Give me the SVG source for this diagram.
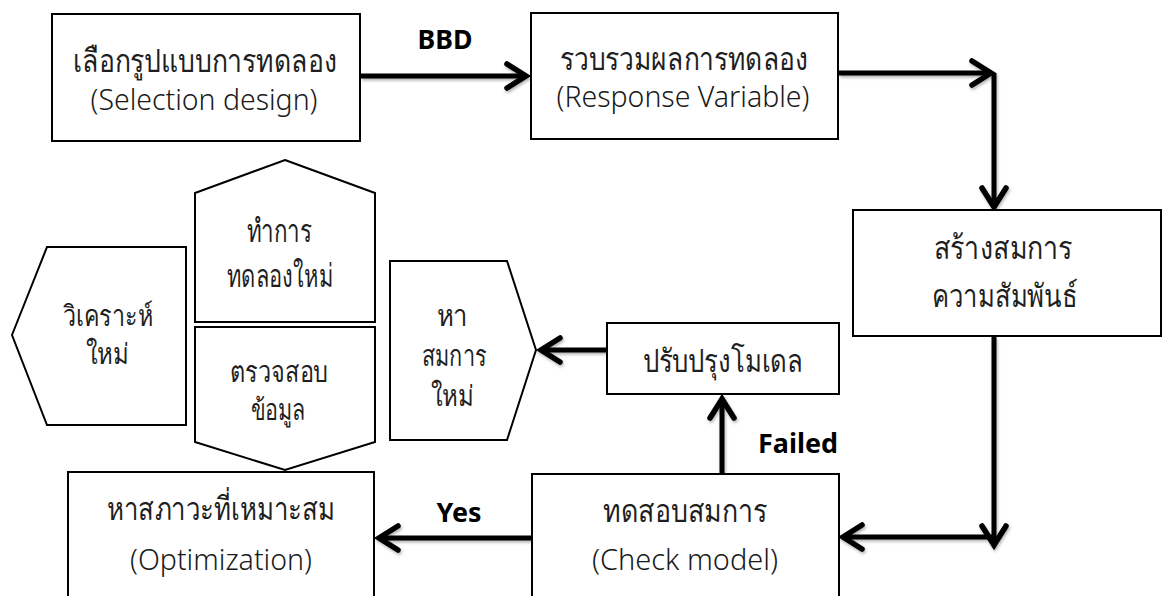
<svg xmlns="http://www.w3.org/2000/svg" width="1169" height="596" viewBox="0 0 1169 596">
  <style>
    .box { fill: #ffffff; stroke: #000000; stroke-width: 2; }
    .th { font-family: "Noto Sans", "DejaVu Sans", sans-serif; font-size: 32px; font-weight: 300; fill: #1f1f1f; text-anchor: middle; }
    .ths { font-family: "Noto Sans", "DejaVu Sans", sans-serif; font-size: 29px; font-weight: 300; fill: #1f1f1f; text-anchor: middle; }
    .en { font-family: "Noto Sans", "DejaVu Sans", sans-serif; font-size: 30px; font-weight: 300; fill: #1a1a1a; text-anchor: middle; }
    .lbl { font-family: "Noto Sans", "DejaVu Sans", sans-serif; font-size: 26px; font-weight: bold; fill: #000000; text-anchor: middle; }
    .conn { fill: none; stroke: #000000; stroke-width: 5; marker-end: url(#arrow); }
  </style>
  <defs>
    <marker id="arrow" markerUnits="userSpaceOnUse" markerWidth="40" markerHeight="40" refX="0" refY="0" viewBox="-30 -20 40 40" orient="auto" overflow="visible">
      <path d="M-19,-12 L0,0 L-19,12" fill="none" stroke="#000000" stroke-width="5.5" stroke-linecap="round" stroke-linejoin="miter"/>
    </marker>
    <filter id="shadow" x="-10%" y="-10%" width="120%" height="120%">
      <feDropShadow dx="1" dy="2" stdDeviation="1.5" flood-color="#000000" flood-opacity="0.3"/>
    </filter>
  </defs>
  <rect width="1169" height="596" fill="#ffffff"/>

  <!-- connectors -->
  <g id="connectors" filter="url(#shadow)">
    <path class="conn" d="M361 76 H526"/>
    <path class="conn" d="M839 73 H991"/>
    <path class="conn" d="M994 73 V207"/>
    <path class="conn" d="M994 337 V545"/>
    <path class="conn" d="M994 537 H843"/>
    <path class="conn" d="M531 538 H379"/>
    <path class="conn" d="M722 474 V399"/>
    <path class="conn" d="M607 350 H541"/>
  </g>

  <!-- edge labels -->
  <g id="labels">
    <text class="lbl" x="445" y="49" textLength="55" lengthAdjust="spacingAndGlyphs">BBD</text>
    <text class="lbl" x="798" y="453" textLength="80" lengthAdjust="spacingAndGlyphs">Failed</text>
    <text class="lbl" x="459" y="522" textLength="45" lengthAdjust="spacingAndGlyphs">Yes</text>
  </g>

  <g id="selection-design">
    <rect class="box" x="52" y="14" width="308" height="127"/>
    <text class="th" x="205" y="72" textLength="264" lengthAdjust="spacingAndGlyphs">เลือกรูปแบบการทดลอง</text>
    <text class="en" x="204" y="110" textLength="227" lengthAdjust="spacingAndGlyphs">(Selection design)</text>
  </g>

  <g id="response-variable">
    <rect class="box" x="531" y="13" width="307" height="126"/>
    <text class="th" x="684" y="70" textLength="248" lengthAdjust="spacingAndGlyphs">รวบรวมผลการทดลอง</text>
    <text class="en" x="683" y="107" textLength="253" lengthAdjust="spacingAndGlyphs">(Response Variable)</text>
  </g>

  <g id="build-equation">
    <rect class="box" x="853" y="210" width="308" height="126"/>
    <text class="th" x="1003" y="259" textLength="139" lengthAdjust="spacingAndGlyphs">สร้างสมการ</text>
    <text class="th" x="1005" y="307" textLength="146" lengthAdjust="spacingAndGlyphs">ความสัมพันธ์</text>
  </g>

  <g id="check-model">
    <rect class="box" x="532" y="474" width="307" height="140"/>
    <text class="th" x="685" y="522" textLength="164" lengthAdjust="spacingAndGlyphs">ทดสอบสมการ</text>
    <text class="en" x="685" y="570" textLength="186" lengthAdjust="spacingAndGlyphs">(Check model)</text>
  </g>

  <g id="optimization">
    <rect class="box" x="68" y="472" width="306" height="140"/>
    <text class="th" x="221" y="520" textLength="228" lengthAdjust="spacingAndGlyphs">หาสภาวะที่เหมาะสม</text>
    <text class="en" x="221" y="570" textLength="182" lengthAdjust="spacingAndGlyphs">(Optimization)</text>
  </g>

  <g id="improve-model">
    <rect class="box" x="607" y="323" width="232" height="71"/>
    <text class="th" x="723" y="372" textLength="161" lengthAdjust="spacingAndGlyphs">ปรับปรุงโมเดล</text>
  </g>

  <g id="new-equation">
    <polygon class="box" points="390,261 507,261 536,350 507,440 390,440"/>
    <text class="ths" x="452" y="326" textLength="31" lengthAdjust="spacingAndGlyphs">หา</text>
    <text class="ths" x="454" y="366" textLength="65" lengthAdjust="spacingAndGlyphs">สมการ</text>
    <text class="ths" x="452" y="406" textLength="43" lengthAdjust="spacingAndGlyphs">ใหม่</text>
  </g>

  <g id="reanalyze">
    <polygon class="box" points="12,335 47,247 186,247 186,425 47,425"/>
    <text class="ths" x="108" y="326" textLength="90" lengthAdjust="spacingAndGlyphs">วิเคราะห์</text>
    <text class="ths" x="107" y="364" textLength="43" lengthAdjust="spacingAndGlyphs">ใหม่</text>
  </g>

  <g id="rerun-experiment">
    <polygon class="box" points="285,160 375,193 375,322 195,322 195,193"/>
    <text class="th" x="279" y="242" textLength="65" lengthAdjust="spacingAndGlyphs">ทำการ</text>
    <text class="th" x="280" y="287" textLength="106" lengthAdjust="spacingAndGlyphs">ทดลองใหม่</text>
  </g>

  <g id="check-data">
    <polygon class="box" points="195,327 375,327 375,442 285,470 195,442"/>
    <text class="ths" x="279" y="382" textLength="98" lengthAdjust="spacingAndGlyphs">ตรวจสอบ</text>
    <text class="ths" x="278" y="420" textLength="55" lengthAdjust="spacingAndGlyphs">ข้อมูล</text>
  </g>
</svg>
